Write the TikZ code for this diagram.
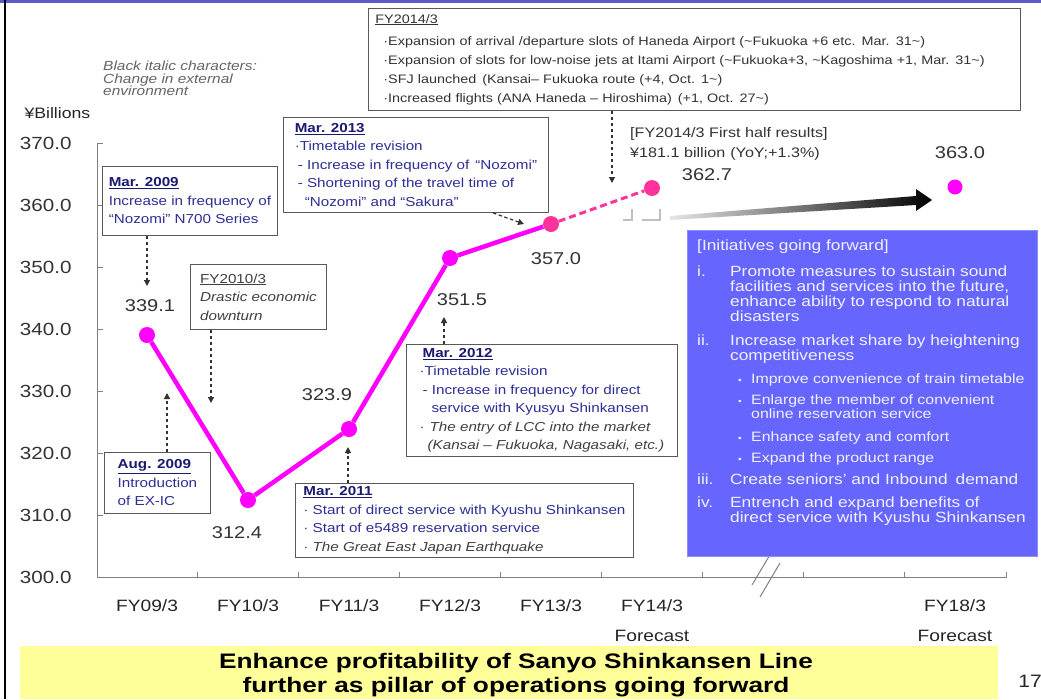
\documentclass[tikz,border=0pt]{standalone}
\usepackage{fontspec}
\setmainfont{Liberation Sans}[FakeStretch=1.17]
\newfontfamily\widefont{Liberation Sans}[FakeStretch=1.25]
\usetikzlibrary{arrows.meta}
\definecolor{navy}{HTML}{2E2E96}
\definecolor{navyt}{HTML}{1A1A70}
\definecolor{gtext}{HTML}{404040}
\definecolor{mag}{HTML}{FF00FF}
\definecolor{pinkr}{HTML}{FF3399}
\definecolor{bluebox}{HTML}{6666FF}
\definecolor{btext}{HTML}{F0F0FF}
\definecolor{yel}{HTML}{FFFF99}
\definecolor{topblue}{HTML}{5B5BC8}
\newcommand\fsz[2]{\fontsize{#1}{#2}\selectfont}
\newcommand\ttl[1]{\textcolor{navyt}{\underline{\textbf{#1}}}}
\begin{document}
\begin{tikzpicture}[x=1pt,y=-1pt,
  abox/.style={draw=black!65, line width=0.9pt, fill=white, anchor=north west, align=left, inner sep=3pt, font=\fsz{13}{18.5}, text=navy},
  darr/.style={draw=black!80, line width=1.2pt, dash pattern=on 3.5pt off 2.5pt, -{Triangle[length=6pt,width=6pt]}},
  val/.style={font=\fsz{17.1}{20}, text=black!80},
  ylab/.style={font=\fsz{17.6}{20}, text=black!80, anchor=east},
  xlab/.style={font=\fsz{16.4}{20}, text=black!85},
  axisl/.style={draw=black!50, line width=1pt},
  ptm/.style={circle, fill=mag, inner sep=0pt, minimum size=16pt},
  ptp/.style={circle, fill=pinkr, inner sep=0pt, minimum size=16pt},
  pline/.style={draw=mag, line width=4.5pt},
  pdash/.style={draw=pinkr, line width=3pt, dash pattern=on 7pt off 4pt},
  btxt/.style={text=btext, anchor=north west, inner sep=0pt, align=left}
]
\useasboundingbox (0,0) rectangle (1041,699);
\fill[white] (0,0) rectangle (1041,699);
\draw[topblue, line width=3pt] (0,1.5) -- (1041,1.5);
\draw[black, line width=1.5pt] (5,0) -- (5,699);

% axes
\draw[axisl] (103,143) -- (97,143) -- (97,577) -- (1006,577) -- (1006,572);
\foreach \yy in {205,267,329,391,453,515} \draw[axisl] (97,\yy) -- (103,\yy);
\foreach \xx in {197.5,298.5,399.5,500.5,601.5,702.5,803,904} \draw[axisl] (\xx,577) -- (\xx,572);
\draw[axisl] (752,585) -- (771,553);
\draw[axisl] (760,597) -- (780,563);

\node[font=\fsz{15.1}{18}, text=black!85, anchor=west] (ylt) at (21,113) {¥Billions};
\foreach \v [count=\i] in {370.0,360.0,350.0,340.0,330.0,320.0,310.0,300.0}
  \node[ylab] (yl\i) at (75,{143+62*(\i-1)}) {\v};

\node[xlab] (x1) at (147,606) {FY09/3};
\node[xlab] (x2) at (248,606) {FY10/3};
\node[xlab] (x3) at (349,606) {FY11/3};
\node[xlab] (x4) at (450,606) {FY12/3};
\node[xlab] (x5) at (551,606) {FY13/3};
\node[xlab] (x6) at (652,606) {FY14/3};
\node[xlab] (x7) at (955,606) {FY18/3};
\node[xlab] (fc1) at (652,636) {Forecast};
\node[xlab] (fc2) at (955,636) {Forecast};

% note
\node[anchor=north west, inner sep=0pt, align=left, font=\itshape\fsz{13.2}{12.5}, text=black!60] (note) at (103,61)
  {Black italic characters:\\Change in external\\environment};

% top box
\node[abox, text=black!80, font=\fsz{12.3}{19}, text width=638pt, minimum height=102pt, inner xsep=7pt] (b14) at (368,8)
  {\underline{FY2014/3}\\[3pt]
   \hspace*{8pt}·Expansion of arrival /departure slots of Haneda Airport (\textasciitilde Fukuoka +6 etc. Mar. 31\textasciitilde)\\
   \hspace*{8pt}·Expansion of slots for low-noise jets at Itami Airport (\textasciitilde Fukuoka+3, \textasciitilde Kagoshima +1, Mar. 31\textasciitilde)\\
   \hspace*{8pt}·SFJ launched\hspace*{6pt}(Kansai– Fukuoka route (+4, Oct. 1\textasciitilde)\\
   \hspace*{8pt}·Increased flights (ANA Haneda – Hiroshima)\hspace*{6pt}(+1, Oct. 27\textasciitilde)};

% annotation boxes
\node[abox, minimum width=175pt, minimum height=69pt] (b09) at (102,166)
  {\ttl{Mar. 2009}\\Increase in frequency of\\“Nozomi” N700 Series};
\node[abox, text=gtext, minimum width=136pt, minimum height=65pt] (b10) at (190,264)
  {\underline{FY2010/3}\\\textit{Drastic economic}\\\textit{downturn}};
\node[abox, minimum width=106pt, minimum height=61pt] (bau) at (104,452)
  {\ttl{Aug. 2009}\\Introduction\\of EX-IC};
\node[abox, minimum width=338pt, minimum height=74pt] (b11) at (295,483)
  {\ttl{Mar. 2011}\\· Start of direct service with Kyushu Shinkansen\\· Start of e5489 reservation service\\\textcolor{gtext}{· \textit{The Great East Japan Earthquake}}};
\node[abox, minimum width=271pt, minimum height=112pt] (b12) at (406,344)
  {\hspace*{3pt}\ttl{Mar. 2012}\\·Timetable revision\\\hspace*{3pt}- Increase in frequency for direct\\\hspace*{12pt}service with Kyusyu Shinkansen\\\textcolor{gtext}{·\hspace*{5pt}\textit{The entry of LCC into the market}}\\\hspace*{8pt}\textcolor{gtext}{\textit{(Kansai – Fukuoka, Nagasaki, etc.)}}};
\node[abox, minimum width=265pt, minimum height=95pt] (b13) at (283,117)
  {\ttl{Mar. 2013}\\·Timetable revision\\\hspace*{3pt}- Increase in frequency of\hspace*{6pt}“Nozomi”\\\hspace*{3pt}- Shortening of the travel time of\\\hspace*{10pt}“Nozomi” and “Sakura”};

% first half results
\node[anchor=north west, inner sep=0pt, align=left, font=\fsz{13.8}{20}, text=black!80] (fh) at (630,127)
  {[FY2014/3 First half results]\\¥181.1 billion\hspace*{5pt}(YoY;+1.3\%)};

% values
\node[val] (v1) at (150,306) {339.1};
\node[val] (v2) at (237,533) {312.4};
\node[val] (v3) at (327,395) {323.9};
\node[val] (v4) at (462,300) {351.5};
\node[val] (v5) at (556,259) {357.0};
\node[val] (v6) at (707,175) {362.7};
\node[val] (v7) at (960,153) {363.0};

% points
\node[ptm] (p1) at (147,335) {};
\node[ptm] (p2) at (248,500) {};
\node[ptm] (p3) at (349,429) {};
\node[ptm] (p4) at (450,258) {};
\node[ptp] (p5) at (551,224) {};
\node[ptp] (p6) at (652,188) {};
\node[ptm, minimum size=15pt] (p7) at (955,187) {};
\draw[pline] (p1) -- (p2) -- (p3) -- (p4) -- (p5);
\draw[pdash] (p5) -- (p6);

% small marks and trend arrow
\draw[black!25, line width=1.2pt] (623,220) -- (632,220) -- (632,209);
\draw[black!25, line width=1.2pt] (642,220) -- (660,220) -- (660,209);
\shade[left color=black!10, right color=black] (670,216) -- (916,196) -- (916,189) -- (932,200) -- (916,211) -- (916,205) -- (670,220) -- cycle;

% arrow tips
\coordinate (a09) at (147,286);
\coordinate (a10) at (211,403);
\coordinate (aau) at (167,393);
\coordinate (a11) at (348,447);
\coordinate (a12) at (444,317);
\coordinate (a13s) at (493,212);
\coordinate (a13) at (524,224);
\coordinate (a14) at (612,183);
\draw[darr] (b09.south -| a09) -- (a09);
\draw[darr] (b10.south -| a10) -- (a10);
\draw[darr] (bau.north -| aau) -- (aau);
\draw[darr] (b11.north -| a11) -- (a11);
\draw[darr] (b12.north -| a12) -- (a12);
\draw[darr] (b13.south -| a13s) -- (a13);
\draw[darr] (b14.south -| a14) -- (a14);

% blue box
\node[draw=bluebox!75!white, fill=bluebox, minimum width=350pt, minimum height=326pt, anchor=north west, inner sep=0pt] (blue) at (687,230) {};
\node[btxt, font=\fsz{14.8}{15}] (bh) at (697,240) {[Initiatives going forward]};
\node[btxt, font=\fsz{14.8}{15}] (bi) at (697,266)
  {\makebox[33pt][l]{i.}Promote measures to sustain sound\\\hspace*{33pt}facilities and services into the future,\\\hspace*{33pt}enhance ability to respond to natural\\\hspace*{33pt}disasters};
\node[btxt, font=\fsz{14.8}{15}] (bii) at (697,335)
  {\makebox[33pt][l]{ii.}Increase market share by heightening\\\hspace*{33pt}competitiveness};
\node[btxt, font=\fsz{13.6}{14}] (s1) at (738,373) {\makebox[13pt][l]{\fsz{9}{10}•}Improve convenience of train timetable};
\node[btxt, font=\fsz{13.6}{14}] (s2) at (738,394) {\makebox[13pt][l]{\fsz{9}{10}•}Enlarge the member of convenient\\\hspace*{13pt}online reservation service};
\node[btxt, font=\fsz{13.6}{14}] (s3) at (738,431) {\makebox[13pt][l]{\fsz{9}{10}•}Enhance safety and comfort};
\node[btxt, font=\fsz{13.6}{14}] (s4) at (738,452) {\makebox[13pt][l]{\fsz{9}{10}•}Expand the product range};
\node[btxt, font=\fsz{14.8}{15}] (biii) at (697,474)
  {\makebox[33pt][l]{iii.}Create seniors’ and Inbound\hspace*{8pt}demand};
\node[btxt, font=\fsz{14.8}{15}] (biv) at (697,497)
  {\makebox[33pt][l]{iv.}Entrench and expand benefits of\\\hspace*{33pt}direct service with Kyushu Shinkansen};

% bottom bar
\node[fill=yel, minimum width=978pt, minimum height=53pt, anchor=north west, inner sep=0pt] (ybar) at (20,646) {};
\node[font=\widefont\bfseries\fsz{21}{24.5}, align=center, text=black] (yt) at (516,675)
  {Enhance profitability of Sanyo Shinkansen Line\\further as pillar of operations going forward};
\node[font=\fsz{18}{20}, text=black!85] (pg) at (1030,681) {17};
\end{tikzpicture}
\end{document}
